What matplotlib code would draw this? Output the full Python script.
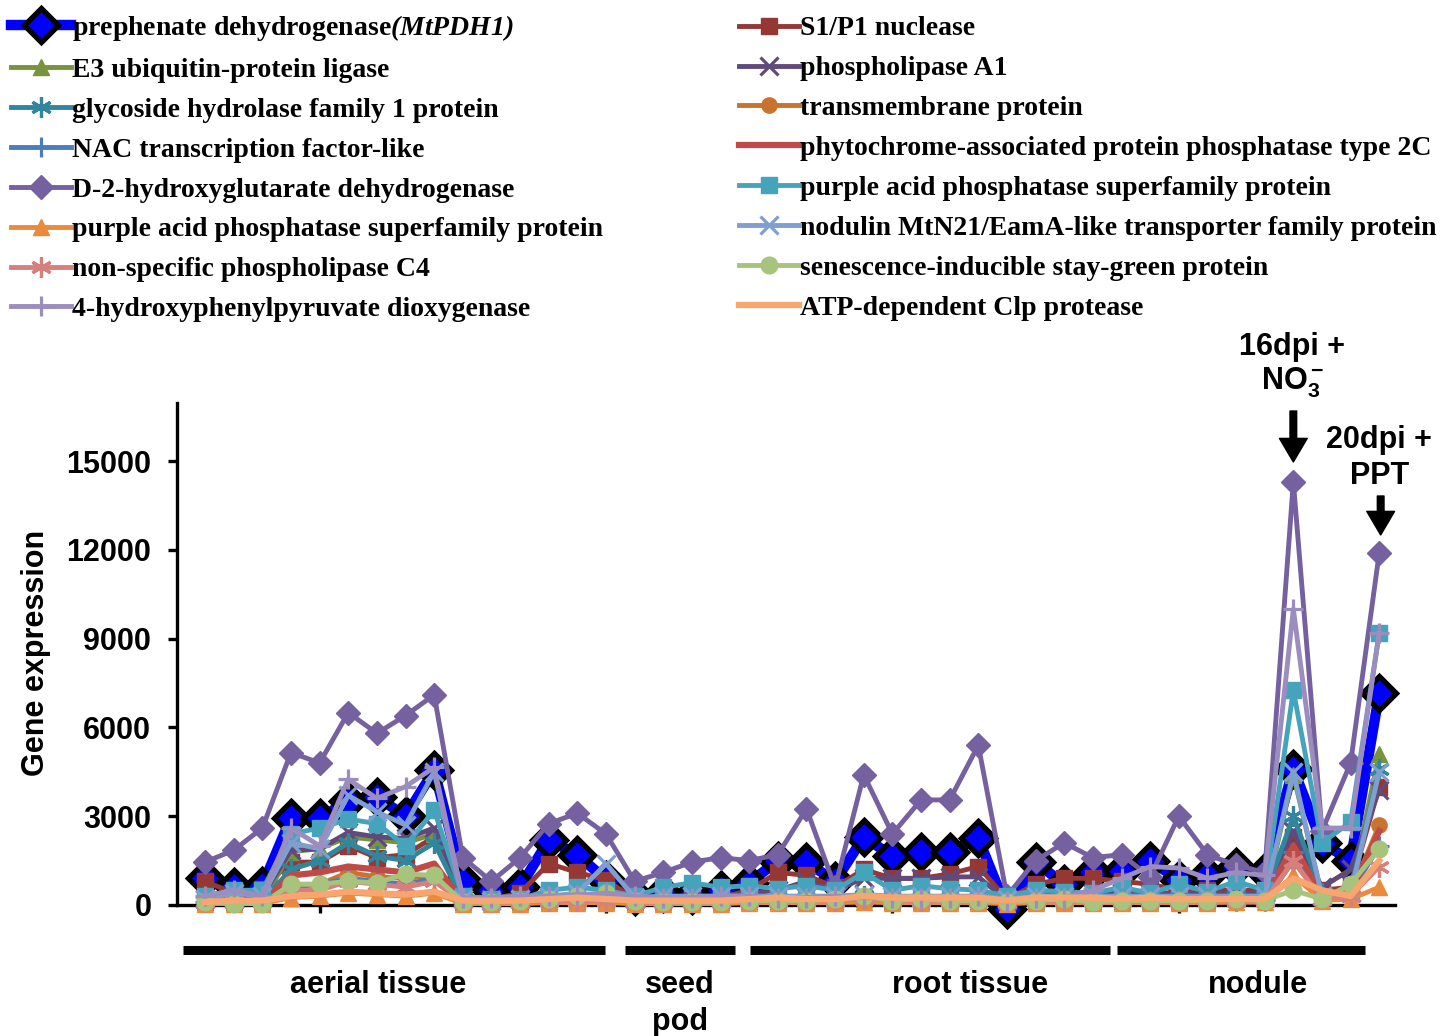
import matplotlib
matplotlib.use("Agg")
import matplotlib.pyplot as plt
import numpy as np

plt.rcParams['mathtext.fontset'] = 'custom'
plt.rcParams['mathtext.rm'] = 'Liberation Sans:bold'
plt.rcParams['mathtext.it'] = 'Liberation Sans:bold:italic'
plt.rcParams['mathtext.sf'] = 'Liberation Serif:bold:italic'
plt.rcParams['mathtext.default'] = 'rm'

# ---------------- data ----------------
n_points = 42
yticks = [0, 3000, 6000, 9000, 12000, 15000]
groups = ["aerial tissue", "seed\npod", "root tissue", "nodule"]

pdh1 = [900, 600, 650, 2950, 2950, 3500, 3650, 3000, 4550, 800, 500, 600, 2200, 1700, 850, 300, 400, 350, 500, 750, 1500,
        1450, 800, 2300, 1650, 1800, 1800, 2250, -150, 1450, 700, 1100, 1150, 1500, 850, 1000, 1300, 1100, 4600, 2100, 1500, 7150]
s1p1 = [800, 400, 550, 1450, 1450, 2000, 1600, 1700, 2300, 300, 200, 400, 1400, 1100, 850, 200, 200, 200, 250, 500, 1100,
        1000, 600, 1200, 900, 900, 1050, 1300, 200, 700, 900, 900, 800, 700, 500, 500, 500, 500, 2300, 500, 600, 4000]
e3 = [100, 100, 100, 1800, 1900, 2300, 2200, 2100, 2400, 100, 100, 100, 150, 150, 150, 100, 100, 100, 100, 150, 150,
      150, 150, 200, 150, 150, 150, 150, 100, 150, 150, 150, 150, 150, 150, 150, 200, 200, 4400, 300, 500, 5100]
pla1 = [200, 200, 300, 1850, 1900, 2450, 2300, 2250, 2600, 300, 200, 200, 300, 300, 300, 250, 250, 300, 300, 400, 500,
        800, 500, 900, 900, 900, 950, 950, 150, 400, 400, 400, 400, 400, 400, 400, 400, 400, 2500, 600, 1200, 3900]
glyco = [150, 100, 150, 1200, 1500, 2100, 1650, 1500, 2100, 150, 100, 100, 200, 200, 200, 100, 100, 100, 100, 200, 200,
         200, 200, 300, 200, 200, 200, 200, 100, 200, 200, 200, 200, 200, 200, 200, 300, 300, 3000, 400, 500, 4600]
transm = [100, 50, 50, 700, 700, 1100, 950, 900, 1000, 100, 50, 50, 100, 100, 100, 50, 50, 50, 50, 100, 100,
          100, 100, 150, 100, 100, 100, 100, 50, 100, 100, 100, 100, 100, 100, 100, 100, 100, 1500, 200, 400, 2700]
nac = [100, 100, 100, 600, 700, 900, 800, 700, 900, 100, 100, 100, 150, 150, 150, 100, 100, 100, 100, 150, 150,
       150, 150, 200, 150, 150, 150, 150, 100, 150, 150, 150, 150, 150, 150, 150, 200, 200, 1800, 300, 400, 2000]
pp2c = [100, 100, 100, 1000, 1100, 1300, 1200, 1100, 1400, 100, 100, 100, 200, 200, 200, 100, 100, 100, 100, 200, 200,
        200, 200, 300, 200, 200, 200, 200, 100, 200, 200, 200, 200, 200, 200, 200, 200, 200, 2000, 300, 400, 2500]
d2hg = [1450, 1850, 2600, 5150, 4800, 6500, 5800, 6400, 7100, 1600, 800, 1600, 2750, 3100, 2400, 800, 1100, 1450, 1600, 1500, 1700,
        3250, 600, 4400, 2400, 3550, 3550, 5400, 300, 1500, 2100, 1600, 1700, 950, 3000, 1700, 1350, 1100, 14300, 2500, 4800, 11900]
pap_sq = [300, 500, 500, 2400, 2600, 2900, 2750, 2000, 3200, 300, 200, 200, 500, 600, 500, 300, 600, 750, 600, 650, 550,
          650, 500, 1100, 500, 650, 550, 500, 300, 500, 450, 400, 600, 400, 700, 450, 800, 500, 7250, 2100, 2800, 9200]
pap_tri = [50, 50, 50, 250, 300, 400, 350, 300, 400, 50, 50, 50, 80, 80, 80, 50, 50, 50, 50, 80, 80,
           80, 80, 100, 80, 80, 80, 80, 50, 80, 80, 80, 80, 80, 80, 80, 100, 100, 1000, 150, 200, 600]
nodulin = [200, 400, 300, 2100, 1900, 3700, 3150, 2700, 4500, 200, 150, 200, 300, 400, 1400, 250, 300, 300, 300, 300, 300,
           300, 300, 350, 300, 300, 300, 300, 200, 300, 300, 300, 300, 300, 300, 300, 300, 300, 4500, 300, 400, 4500]
plc4 = [100, 100, 100, 500, 500, 800, 700, 600, 800, 100, 100, 100, 150, 150, 150, 100, 100, 100, 100, 150, 150,
        150, 150, 200, 150, 150, 150, 150, 100, 150, 150, 150, 150, 150, 150, 150, 150, 150, 1500, 200, 300, 1300]
sgr = [100, 50, 50, 700, 700, 800, 750, 1050, 1000, 100, 100, 150, 200, 300, 400, 150, 100, 100, 100, 150, 150,
       150, 200, 300, 150, 200, 150, 150, 100, 150, 200, 100, 150, 150, 150, 150, 200, 150, 500, 200, 700, 1900]
hppd = [300, 500, 300, 2600, 2000, 4250, 3600, 4000, 4650, 250, 250, 300, 300, 350, 400, 300, 250, 250, 300, 300, 250,
        250, 300, 250, 250, 250, 250, 300, 150, 250, 250, 500, 900, 1300, 1250, 900, 1100, 1000, 10000, 2600, 2600, 9200]
clp = [100, 150, 150, 300, 350, 450, 400, 350, 450, 150, 150, 150, 200, 250, 200, 150, 150, 150, 150, 200, 250,
       200, 200, 300, 250, 250, 250, 250, 150, 250, 250, 250, 200, 250, 200, 200, 200, 200, 900, 500, 300, 1500]

ast = (6, 2, 0)
# label, values, color, marker, markersize
series = [
    (r"prephenate dehydrogenase$\mathsf{(MtPDH1)}$", pdh1, "#0000FF", "D", 17),
    ("S1/P1 nuclease", s1p1, "#953735", "s", 11),
    ("E3 ubiquitin-protein ligase", e3, "#77933C", "^", 12),
    ("phospholipase A1", pla1, "#604A7B", "x", 13),
    ("glycoside hydrolase family 1 protein", glyco, "#31859C", ast, 15),
    ("transmembrane protein", transm, "#C8732F", "o", 11),
    ("NAC transcription factor-like", nac, "#4A7EBB", "+", 15),
    ("phytochrome-associated protein phosphatase type 2C", pp2c, "#BE4B48", "None", 0),
    ("D-2-hydroxyglutarate dehydrogenase", d2hg, "#7560A0", "D", 12),
    ("purple acid phosphatase superfamily protein", pap_sq, "#46A3BC", "s", 11),
    ("purple acid phosphatase superfamily protein", pap_tri, "#EB8A3C", "^", 12),
    ("nodulin MtN21/EamA-like transporter family protein", nodulin, "#7F9FD0", "x", 13),
    ("non-specific phospholipase C4", plc4, "#D6807E", ast, 15),
    ("senescence-inducible stay-green protein", sgr, "#A7C37C", "o", 12),
    ("4-hydroxyphenylpyruvate dioxygenase", hppd, "#9B8DBE", "+", 15),
    ("ATP-dependent Clp protease", clp, "#F9A56F", "None", 0),
]

W, H = 1440, 1036
fig = plt.figure(figsize=(W / 100, H / 100), dpi=100)
ax_l, ax_r, ax_b, ax_t = 177, 1395, 905, 403
ax = fig.add_axes([ax_l / W, 1 - ax_b / H, (ax_r - ax_l) / W, (ax_b - ax_t) / H])

x = np.arange(n_points)
handles = []
for i, (lab, vals, col, mk, ms) in enumerate(series):
    if i == 0:
        ln, = ax.plot(x, vals, color=col, lw=7.5, marker=mk, ms=ms, mfc=col, mec="black", mew=3.8,
                      clip_on=False, zorder=2, label=lab)
    else:
        lw = 4.5 if mk == "None" else 3.5
        mew = 2.3 if mk in ("x", "+", ast) else 1
        ln, = ax.plot(x, vals, color=col, lw=lw, marker=mk, ms=ms, mfc=col, mec=col, mew=mew,
                      clip_on=False, zorder=3 + i, label=lab)
    handles.append(ln)

ax.set_xlim(-0.98, 41.55)
ax.set_ylim(0, 16960)
ax.set_yticks(yticks)
ax.set_yticklabels([str(v) for v in yticks], fontfamily="Liberation Sans", fontweight="bold", fontsize=22)
ax.set_xticks([4, 14, 24, 34])
ax.set_xticklabels([])
for s in ("top", "right"):
    ax.spines[s].set_visible(False)
for s in ("left", "bottom"):
    ax.spines[s].set_linewidth(2.4)
ax.tick_params(axis="y", direction="out", length=6.5, width=2.4, pad=12)
ax.tick_params(axis="x", direction="out", length=6, width=2.4)

fig.text(36 / W, 1 - 653 / H, "Gene expression", rotation=90, ha="center", va="center",
         fontfamily="Liberation Sans", fontweight="bold", fontsize=22)

# group bars and labels
tr = ax.get_xaxis_transform()
bar_y = -(950 - ax_b) / (ax_b - ax_t)
bars = [(-0.77, 13.96), (14.66, 18.50), (19.02, 31.59), (31.83, 40.49)]
centers = [6.04, 16.58, 26.7, 36.75]
for (a, b), c, g in zip(bars, centers, groups):
    ax.plot([a, b], [bar_y, bar_y], transform=tr, color="black", lw=6.5, solid_capstyle="butt", clip_on=False)
    for j, t in enumerate(g.split("\n")):
        yy = -((985 + 37 * j) - ax_b) / (ax_b - ax_t)
        ax.text(c, yy, t, transform=tr, ha="center", va="center", fontfamily="Liberation Sans",
                fontweight="bold", fontsize=22)

# annotations
def ypx(p):
    return (ax_b - p) / (ax_b - ax_t) * 16960

tkw = dict(ha="center", va="center", fontfamily="Liberation Sans", fontweight="bold", fontsize=22,
           annotation_clip=False)
akw = dict(arrowstyle="simple,head_width=1.0,head_length=0.85,tail_width=0.24", color="black",
           shrinkA=0, shrinkB=0, mutation_scale=20)
ax.annotate("", xy=(38, ypx(462)), xytext=(38, ypx(411)), arrowprops=akw, annotation_clip=False)
ax.annotate("16dpi +", xy=(37.97, ypx(347)), **tkw)
ax.annotate("NO$_3^-$", xy=(37.97, ypx(383)), **tkw)
ax.annotate("", xy=(41.05, ypx(535)), xytext=(41.05, ypx(496)), arrowprops=akw, annotation_clip=False)
ax.annotate("20dpi +", xy=(41.0, ypx(440)), **tkw)
ax.annotate("PPT", xy=(41.0, ypx(476)), **tkw)

# legend: two columns
lprop = dict(family="Liberation Serif", weight="bold", size=20)
left = [handles[i] for i in (0, 2, 4, 6, 8, 10, 12, 14)]
right = [handles[i] for i in (1, 3, 5, 7, 9, 11, 13, 15)]
lkw = dict(loc="upper left", frameon=False, borderpad=0, borderaxespad=0, handlelength=2.15,
           handletextpad=0.05, labelspacing=0.52, prop=lprop, numpoints=1)
leg1 = fig.legend(handles=left, labels=[h.get_label() for h in left], bbox_to_anchor=(11 / W, 1 - 13 / H), **lkw)
leg2 = fig.legend(handles=right, labels=[h.get_label() for h in right], bbox_to_anchor=(739 / W, 1 - 16 / H), **lkw)

fig.savefig("out.png", dpi=100)
